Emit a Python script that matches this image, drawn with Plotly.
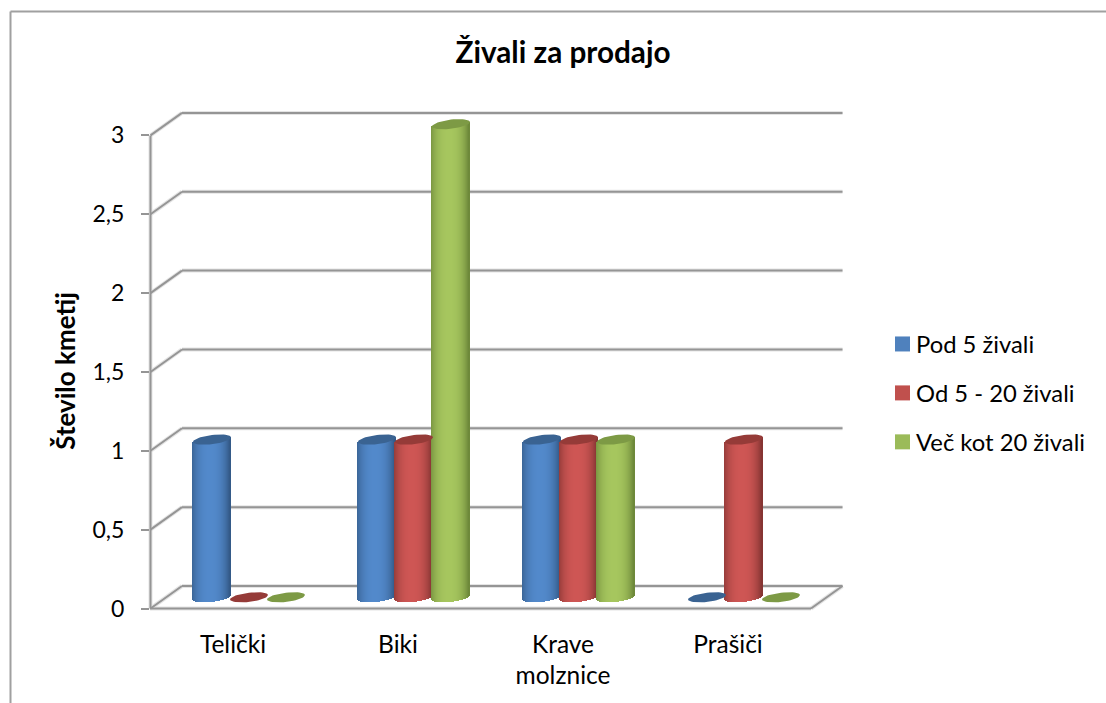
import math
import plotly.graph_objects as go

categories = ["Telički", "Biki", "Krave<br>molznice", "Prašiči"]
series_names = ["Pod 5 živali", "Od 5 - 20 živali", "Več kot 20 živali"]
pod_5 = [1, 1, 1, 0]
od_5_20 = [0, 1, 1, 1]
vec_20 = [0, 3, 1, 0]
y_ticks = [0, 0.5, 1, 1.5, 2, 2.5, 3]
y_labels = ["0", "0,5", "1", "1,5", "2", "2,5", "3"]

FONT = "Lato"
W, H = 1106, 703
L, R, T, B = 150, 850, 110, 632
ZERO_PX, UNIT_PX = 608.5, 157.7
CAT0_PX, CAT_PX = 249.0, 165.0
GRID = "#959595"
HALO = "#E4E4E4"

LIGHT = ["#5289CB", "#CE5654", "#A6C65E"]
DARK = ["#345A88", "#863533", "#6E893A"]
CAP = ["#3A6392", "#953B38", "#7D9A45"]
SWATCH = ["#4F81BD", "#C0504D", "#9BBB59"]

offsets = [-37 / CAT_PX, 0.0, 37 / CAT_PX]
half_w = 19 / CAT_PX
base = (ZERO_PX - 597.3) / UNIT_PX
tilt = 2.2 / UNIT_PX
half_h = 4.6 / UNIT_PX
N = 38


def mix(a, b, f):
    ca = [int(a[i:i + 2], 16) for i in (1, 3, 5)]
    cb = [int(b[i:i + 2], 16) for i in (1, 3, 5)]
    return "rgb(%d,%d,%d)" % tuple(round(x + (y - x) * f) for x, y in zip(ca, cb))


def px_x(px):
    return (px - L) / (R - L)


def px_yp(px):
    return (B - px) / (B - T)


fig = go.Figure()
all_values = [pod_5, od_5_20, vec_20]

for s, values in enumerate(all_values):
    xs, bases, heights, colors, widths = [], [], [], [], []
    for c, v in enumerate(values):
        if v <= 0:
            continue
        for i in range(N):
            t = -1 + (2 * i + 1) / N
            xs.append(c + offsets[s] + t * half_w)
            bottom = base + tilt * t - half_h * math.sqrt(max(0, 1 - t * t))
            top = base + v + tilt * t
            bases.append(bottom)
            heights.append(top - bottom)
            shade = max(0.0, 1 - (abs(t + 0.06) / 1.02) ** 2.4) ** 0.9
            colors.append(mix(DARK[s], LIGHT[s], shade))
            widths.append(1.35 / CAT_PX)
    fig.add_trace(go.Bar(x=xs, y=heights, base=bases, width=widths,
                         marker=dict(color=colors, line=dict(width=0)),
                         showlegend=False, hoverinfo="skip"))

for s, values in enumerate(all_values):
    cx, cy = [], []
    for c, v in enumerate(values):
        for k in range(49):
            a = 2 * math.pi * k / 48
            cx.append(c + offsets[s] + half_w * math.cos(a))
            cy.append(base + v + tilt * math.cos(a) + half_h * math.sin(a))
        cx.append(None)
        cy.append(None)
    fig.add_trace(go.Scatter(x=cx, y=cy, mode="lines", fill="toself", fillcolor=CAP[s],
                             line=dict(width=0, color=CAP[s]), showlegend=False, hoverinfo="skip"))

for s, name in enumerate(series_names):
    fig.add_trace(go.Scatter(x=[None], y=[None], mode="markers", name=name, legendgroup=name,
                             marker=dict(symbol="square", size=15, color=SWATCH[s])))

back_dy = 22.5 / UNIT_PX
segments = []
for v in y_ticks:
    segments.append((px_x(150.5), px_x(182), v, v + back_dy))
    segments.append((px_x(182), px_x(842.5), v + back_dy, v + back_dy))
segments.append((px_x(150.5), px_x(150.5), 0, 3))
segments.append((px_x(150), px_x(811), 0, 0))
segments.append((px_x(811), px_x(842.5), 0, back_dy))

shapes = []
for col, wid in ((HALO, 4), (GRID, 2)):
    for x0, x1, y0, y1 in segments:
        shapes.append(dict(type="line", layer="below", xref="paper", yref="y",
                           x0=x0, x1=x1, y0=y0, y1=y1, line=dict(color=col, width=wid)))
# outer chart frame
frame = dict(color="#A0A0A0", width=2)
shapes.append(dict(type="line", xref="paper", yref="paper", x0=px_x(10.5), x1=px_x(1106),
                   y0=px_yp(11.5), y1=px_yp(11.5), line=frame))
shapes.append(dict(type="line", xref="paper", yref="paper", x0=px_x(10.5), x1=px_x(10.5),
                   y0=px_yp(11.5), y1=px_yp(703), line=frame))

fig.update_layout(
    width=W, height=H, autosize=False,
    margin=dict(l=L, r=W - R, t=T, b=H - B, pad=0),
    paper_bgcolor="white", plot_bgcolor="rgba(0,0,0,0)",
    barmode="overlay", bargap=0,
    font=dict(family=FONT, size=23, color="#000000"),
    title=dict(text="<b>Živali za prodajo</b>", font=dict(family=FONT, size=29.7, color="#000000"),
               x=563 / W, xref="container", xanchor="center",
               y=1 - 53 / H, yref="container", yanchor="middle"),
    xaxis=dict(range=[(L - CAT0_PX) / CAT_PX, (R - CAT0_PX) / CAT_PX],
               tickmode="array", tickvals=[c - 16 / CAT_PX for c in range(4)], ticktext=categories,
               showgrid=False, zeroline=False, showline=False, ticks="", tickangle=0,
               ticklabelstandoff=-5,
               tickfont=dict(family=FONT, size=24.5), automargin=False),
    yaxis=dict(range=[(ZERO_PX - B) / UNIT_PX, (ZERO_PX - T) / UNIT_PX],
               tickmode="array", tickvals=y_ticks, ticktext=y_labels,
               showgrid=False, zeroline=False, showline=False,
               ticks="outside", ticklen=8, tickwidth=2, tickcolor=GRID, ticklabelstandoff=12,
               tickfont=dict(family=FONT, size=23), automargin=False,
               title=dict(text="<b>Število kmetij</b>", standoff=9,
                          font=dict(family=FONT, size=26, color="#000000"))),
    legend=dict(x=883 / W, xref="container", y=1 - 322 / H, yref="container", xanchor="left", yanchor="top",
                traceorder="grouped", tracegroupgap=15, itemwidth=30, indentation=-7,
                font=dict(family=FONT, size=23.8), bgcolor="rgba(0,0,0,0)"),
    shapes=shapes,
)

fig.write_html("out.html", config=dict(displayModeBar=False),
               post_script="document.body.style.margin='0';document.body.style.overflow='hidden';"
                           "document.querySelectorAll('.legend .layers').forEach(function(e){"
                           "e.style.transform='translateX(-0.5px)';});")
